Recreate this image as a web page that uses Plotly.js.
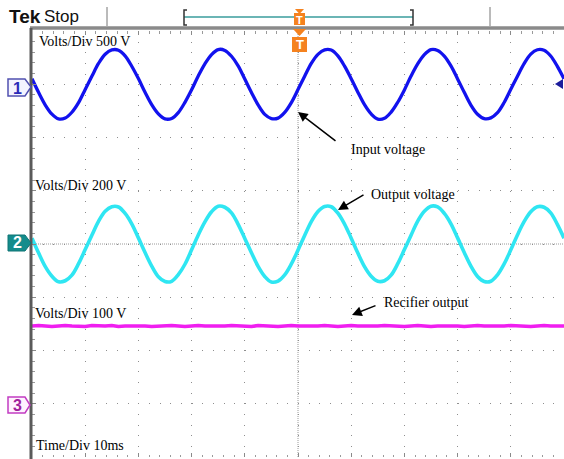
<!DOCTYPE html>
<html><head><meta charset="utf-8">
<script src="https://cdn.plot.ly/plotly-3.0.1.min.js"></script>
<style>html,body{margin:0;padding:0;background:#fff;}#chart{width:564px;height:459px;}</style>
</head><body><div id="chart"></div>
<script>
// Time base: 10 ms/div, samples read every 1.25 ms
const timeMs = [-50,-48.75,-47.5,-46.25,-45,-43.75,-42.5,-41.25,-40,-38.75,-37.5,-36.25,-35,-33.75,-32.5,-31.25,
  -30,-28.75,-27.5,-26.25,-25,-23.75,-22.5,-21.25,-20,-18.75,-17.5,-16.25,-15,-13.75,-12.5,-11.25,
  -10,-8.75,-7.5,-6.25,-5,-3.75,-2.5,-1.25,0,1.25,2.5,3.75,5,6.25,7.5,8.75,
  10,11.25,12.5,13.75,15,16.25,17.5,18.75,20,21.25,22.5,23.75,25,26.25,27.5,28.75,
  30,31.25,32.5,33.75,35,36.25,37.5,38.75,40,41.25,42.5,43.75,45,46.25,47.5,48.75,
  50];
// Channel 1: input voltage (V), 500 V/div
const ch1Volts = [51,-78,-195,-281,-326,-317,-263,-173,-49,74,195,282,322,320,267,169,
  53,-75,-191,-278,-325,-321,-266,-170,-52,78,192,279,326,318,263,173,
  49,-77,-194,-283,-322,-318,-264,-172,-50,75,196,281,323,321,266,170,
  52,-74,-192,-279,-327,-320,-262,-169,-53,77,191,278,325,317,264,172,
  50,-76,-196,-282,-323,-316,-267,-171,-48,76,194,283,324,319,265,168,
  51];
// Channel 2: output voltage (V), 200 V/div
const ch2Volts = [22,-34,-85,-121,-142,-138,-117,-74,-21,33,85,123,140,139,115,76,
  23,-32,-83,-123,-141,-140,-115,-76,-22,34,83,121,142,138,117,74,
  21,-33,-84,-122,-143,-139,-116,-75,-23,32,84,122,141,140,116,75,
  22,-34,-85,-121,-140,-138,-117,-74,-21,33,86,123,142,139,115,76,
  23,-32,-83,-122,-141,-140,-116,-75,-22,34,84,121,140,138,117,74,
  22];
// Channel 3: rectifier output (V), 100 V/div
const ch3Volts = [146,147,146,145,146,147,146,146,145,147,146,146,147,145,146,146,
  147,146,145,146,146,147,146,145,146,147,146,146,145,146,147,146,
  146,145,147,146,146,145,146,147,146,146,145,146,147,146,145,146,
  147,146,146,145,146,147,146,146,145,146,147,146,145,146,146,147,
  146,145,146,147,146,146,145,146,147,146,146,145,146,147,146,146,
  146];
const voltsPerDiv = [500, 200, 100];
const groundDiv = [3, 0, -3];
const labelsVoltsDiv = ['Volts/Div 500 V','Volts/Div 200 V','Volts/Div 100 V'];
const timeDivLabel = 'Time/Div 10ms';
const noteLabels = ['Input voltage','Output voltage','Recifier output'];

const toDiv = (arr, i) => arr.map(v => groundDiv[i] + v / voltsPerDiv[i]);
const colors = ['#1212ee', '#2fe6f2', '#f01ef0'];
const widths = [3.3, 3.6, 3.6];
const traces = [ch1Volts, ch2Volts, ch3Volts].map((arr, i) => ({
  type: 'scatter', mode: 'lines', x: timeMs, y: toDiv(arr, i),
  line: {color: colors[i], width: widths[i], shape: i < 2 ? 'spline' : 'linear', smoothing: 1},
  hoverinfo: 'skip'
}));

// pixel -> paper helpers (plot area: x 32..564, y 31..457)
const L = 32, T = 31, W = 532, H = 426;
const fx = px => (px - L) / W;
const fy = py => (T + H - py) / H;
const P = (px, py) => fx(px) + ',' + fy(py);
const path = pts => 'M' + pts.map(p => P(p[0], p[1])).join(' L') + ' Z';
const openPath = pts => 'M' + pts.map(p => P(p[0], p[1])).join(' L');

const grid = '#8e8e8e';
const shapes = [
  {type:'line', xref:'x', yref:'paper', x0:0, x1:0, y0:0, y1:1, layer:'below', line:{color:'#9a9a9a', width:1, dash:'1px,1px'}},
  {type:'line', xref:'paper', yref:'y', x0:0, x1:1, y0:0, y1:0, layer:'below', line:{color:'#9a9a9a', width:1, dash:'1px,1px'}},
  {type:'line', xref:'paper', yref:'paper', x0:fx(30), x1:fx(564), y0:fy(28), y1:fy(28), line:{color:'#8a8a8a', width:3.5}},
  {type:'line', xref:'paper', yref:'paper', x0:fx(31), x1:fx(31), y0:fy(28), y1:fy(459), line:{color:'#5a5a5a', width:3}},
  {type:'line', xref:'paper', yref:'paper', x0:fx(107), x1:fx(107), y0:fy(7), y1:fy(26), line:{color:'#777', width:1}},
  {type:'line', xref:'paper', yref:'paper', x0:fx(490), x1:fx(490), y0:fy(7), y1:fy(26), line:{color:'#777', width:1}},
  {type:'line', xref:'paper', yref:'paper', x0:fx(184), x1:fx(413), y0:fy(17), y1:fy(17), line:{color:'#3a9c9c', width:1.5}},
  {type:'path', xref:'paper', yref:'paper', path: openPath([[187,10],[184,10],[184,25],[187,25]]), line:{color:'#333', width:1.5}},
  {type:'path', xref:'paper', yref:'paper', path: openPath([[410,10],[413,10],[413,25],[410,25]]), line:{color:'#333', width:1.5}},
  {type:'path', xref:'paper', yref:'paper', path: path([[295,9],[304,9],[299.5,14]]), fillcolor:'#f5821f', line:{width:0}},
  {type:'rect', xref:'paper', yref:'paper', x0:fx(294), x1:fx(305), y0:fy(13), y1:fy(25), fillcolor:'#f5821f', line:{width:0}},
  {type:'path', xref:'paper', yref:'paper', path: path([[293,29],[306,29],[299.5,36]]), fillcolor:'#f5821f', line:{width:0}},
  {type:'rect', xref:'paper', yref:'paper', x0:fx(292), x1:fx(307), y0:fy(37), y1:fy(52), fillcolor:'#f5821f', line:{width:0}},
  {type:'path', xref:'paper', yref:'paper', path: path([[8,79],[25,79],[31,87],[25,96],[8,96]]), fillcolor:'#f4f4ff', line:{color:'#5050b0', width:1.5}},
  {type:'path', xref:'paper', yref:'paper', path: path([[8,235],[25,235],[31,243],[25,251],[8,251]]), fillcolor:'#148c8c', line:{color:'#0e7474', width:1}},
  {type:'path', xref:'paper', yref:'paper', path: path([[8,397],[25,397],[30,405],[25,413],[8,413]]), fillcolor:'#fff2ff', line:{color:'#c23cc2', width:1.5}},
  {type:'path', xref:'paper', yref:'paper', path: path([[555,84],[563,79],[563,89]]), fillcolor:'#1c1c9c', line:{width:0}}
];

const txt = (s, px, py, opts) => Object.assign({
  text: s, xref:'paper', yref:'paper', x: fx(px), y: fy(py), xanchor:'left', yanchor:'middle',
  showarrow:false, borderpad:0, borderwidth:0,
  font:{family:'Liberation Serif, Times New Roman, serif', size:14, color:'#000'}
}, opts || {});
const arrow = (hx, hy, tx, ty) => ({
  text:'', xref:'paper', yref:'paper', x: fx(hx), y: fy(hy), ax: tx - hx, ay: ty - hy,
  showarrow:true, arrowhead:2, arrowsize:1.3, arrowwidth:1.5, arrowcolor:'#000', standoff:0
});

const annotations = [
  txt('<b>Tek</b>', 9, 17, {font:{family:'Liberation Sans, Arial, sans-serif', size:19, color:'#111'}}),
  txt('Stop', 44, 17, {font:{family:'Liberation Sans, Arial, sans-serif', size:17, color:'#111'}}),
  txt(labelsVoltsDiv[0], 39, 41),
  txt(labelsVoltsDiv[1], 35, 185),
  txt(labelsVoltsDiv[2], 35, 313),
  txt(timeDivLabel, 36, 445),
  txt(noteLabels[0], 351, 149),
  txt(noteLabels[1], 371, 194),
  txt(noteLabels[2], 384, 302),
  arrow(298, 112, 337, 142),
  arrow(338, 210, 365, 194),
  arrow(352, 315, 377, 305),
  txt('<b>T</b>', 299.5, 19.5, {xanchor:'center', font:{family:'Liberation Sans, Arial, sans-serif', size:11, color:'#fff'}}),
  txt('<b>T</b>', 299.5, 44.5, {xanchor:'center', font:{family:'Liberation Sans, Arial, sans-serif', size:13, color:'#fff'}}),
  txt('<b>1</b>', 17, 88, {xanchor:'center', font:{family:'Liberation Sans, Arial, sans-serif', size:16, color:'#2a2ab8'}}),
  txt('<b>2</b>', 17, 243, {xanchor:'center', font:{family:'Liberation Sans, Arial, sans-serif', size:16, color:'#fff'}}),
  txt('<b>3</b>', 17, 405, {xanchor:'center', font:{family:'Liberation Sans, Arial, sans-serif', size:16, color:'#a0209c'}})
];

const tickAxisX = side => ({overlaying:'x', range:[-50,50], anchor:'free', position:0.5, side: side,
  ticks:'outside', ticklen:3, tickcolor:'#8a8a8a', dtick:2, tick0:0, showticklabels:false,
  showgrid:false, zeroline:false, showline:false, fixedrange:true});
const tickAxisY = side => ({overlaying:'y', range:[-4,4], anchor:'free', position:fx(298), side: side,
  ticks:'outside', ticklen:3, tickcolor:'#8a8a8a', dtick:0.2, tick0:0, showticklabels:false,
  showgrid:false, zeroline:false, showline:false, fixedrange:true});

const layout = {
  width:564, height:459, margin:{l:L, r:0, t:T, b:459 - T - H, pad:0},
  paper_bgcolor:'#fff', plot_bgcolor:'#fff', showlegend:false,
  xaxis:{range:[-50,50], dtick:10, tick0:0, showgrid:true, gridcolor:grid, gridwidth:1, griddash:'1px,9.64px',
    zeroline:false, showticklabels:false, showline:false, ticks:'inside', ticklen:4, tickcolor:'#8a8a8a', mirror:'ticks',
    minor:{dtick:2, ticks:'inside', ticklen:2.5, tickcolor:'#9a9a9a', showgrid:false}, fixedrange:true},
  yaxis:{range:[-4,4], dtick:1, tick0:0, showgrid:true, gridcolor:grid, gridwidth:1, griddash:'1px,9.64px',
    zeroline:false, showticklabels:false, showline:false,
    ticks:'inside', ticklen:4, tickcolor:'#8a8a8a',
    minor:{dtick:0.2, ticks:'inside', ticklen:2.5, tickcolor:'#9a9a9a', showgrid:false}, fixedrange:true},
  xaxis2: tickAxisX('bottom'), xaxis3: tickAxisX('top'),
  yaxis2: tickAxisY('left'), yaxis3: tickAxisY('right'),
  shapes: shapes, annotations: annotations
};

Plotly.newPlot('chart', traces, layout, {displayModeBar:false, staticPlot:true});
</script>
</body></html>
